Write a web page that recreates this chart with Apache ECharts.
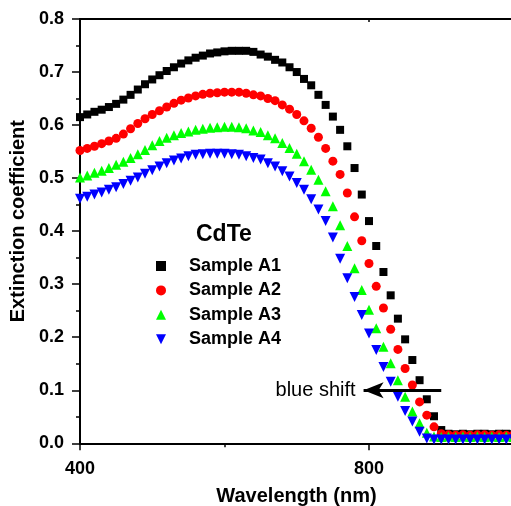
<!DOCTYPE html>
<html>
<head>
<meta charset="utf-8">
<script src="https://cdn.jsdelivr.net/npm/echarts@6/dist/echarts.min.js"></script>
<style>html,body{margin:0;padding:0;background:#fff}#c{width:511px;height:506px}</style>
</head>
<body>
<div id="c"></div>
<script>
// Wavelength grid (nm)
var wavelengths = [];
for (var w = 400; w <= 1000; w += 10) wavelengths.push(w);

var seriesNames = ['Sample A1', 'Sample A2', 'Sample A3', 'Sample A4'];

var sampleA1 = [0.615,0.620,0.625,0.629,0.634,0.640,0.648,0.657,0.667,0.677,
0.686,0.694,0.702,0.709,0.716,0.722,0.727,0.731,0.735,0.737,
0.739,0.740,0.740,0.740,0.738,0.733,0.729,0.723,0.718,0.709,
0.700,0.687,0.675,0.657,0.638,0.616,0.591,0.560,0.519,0.469,
0.419,0.372,0.323,0.279,0.235,0.196,0.157,0.119,0.083,0.051,
0.025,0.018,0.017,0.018,0.017,0.018,0.018,0.017,0.018,0.018,0.017];

var sampleA2 = [0.552,0.556,0.560,0.565,0.570,0.575,0.583,0.593,0.603,0.612,
0.620,0.627,0.634,0.641,0.647,0.651,0.655,0.658,0.660,0.661,
0.662,0.662,0.662,0.660,0.657,0.655,0.650,0.646,0.638,0.630,
0.620,0.608,0.594,0.577,0.556,0.532,0.507,0.472,0.427,0.382,
0.339,0.296,0.255,0.215,0.177,0.141,0.110,0.078,0.053,0.031,
0.018,0.016,0.015,0.016,0.015,0.016,0.016,0.015,0.016,0.015,0.016];

var sampleA3 = [0.501,0.505,0.510,0.514,0.519,0.525,0.531,0.538,0.545,0.553,
0.562,0.570,0.576,0.581,0.585,0.588,0.591,0.593,0.595,0.596,
0.597,0.597,0.596,0.594,0.590,0.587,0.581,0.575,0.566,0.557,
0.546,0.532,0.516,0.497,0.475,0.447,0.411,0.372,0.330,0.289,
0.252,0.217,0.182,0.151,0.119,0.088,0.060,0.038,0.020,0.013,
0.012,0.013,0.012,0.013,0.012,0.013,0.012,0.013,0.012,0.013,0.012];

var sampleA4 = [0.461,0.465,0.469,0.473,0.478,0.483,0.489,0.495,0.501,0.508,
0.515,0.522,0.528,0.533,0.537,0.541,0.544,0.545,0.546,0.546,
0.546,0.545,0.544,0.541,0.538,0.535,0.528,0.522,0.513,0.503,
0.491,0.478,0.460,0.441,0.419,0.388,0.348,0.311,0.276,0.242,
0.207,0.176,0.144,0.116,0.088,0.061,0.041,0.022,0.009,0.007,
0.007,0.007,0.007,0.007,0.007,0.007,0.007,0.007,0.007,0.007,0.007];

var yTicks = [0.0,0.1,0.2,0.3,0.4,0.5,0.6,0.7,0.8];
var xTickLabels = [400, 800, 1200];

var font = 'Arial, "Liberation Sans", sans-serif';

function pairs(vals) {
  return wavelengths.map(function (w, i) { return [w, vals[i]]; });
}

var chart = echarts.init(document.getElementById('c'), null, {renderer: 'canvas'});

var colors = ['#000000', '#ff0000', '#00ff00', '#0000ff'];
var symbols = ['rect', 'circle', 'triangle', 'path://M0,0L10,0L5,10Z'];
var sizes = [8, 9, 10, 10];
var datas = [sampleA1, sampleA2, sampleA3, sampleA4];

var series = seriesNames.map(function (name, i) {
  return {
    name: name,
    type: 'scatter',
    data: pairs(datas[i]),
    symbol: symbols[i],
    symbolSize: sizes[i],
    itemStyle: {color: colors[i], opacity: 1},
    emphasis: {disabled: true},
    animation: false
  };
});

series[3].markLine = {
  silent: true,
  animation: false,
  symbol: ['none', 'arrow'],
  symbolSize: [12, 20],
  lineStyle: {color: '#000', width: 3, type: 'solid'},
  label: {
    show: true, position: 'end', formatter: 'blue shift',
    color: '#000', fontSize: 20, fontFamily: font, distance: 8
  },
  data: [[{coord: [900, 0.1]}, {coord: [792.5, 0.1]}]]
};

chart.setOption({
  animation: false,
  backgroundColor: '#fff',
  title: {
    text: 'CdTe', left: 191, top: 218,
    textStyle: {fontSize: 23, fontWeight: 'bold', fontFamily: font, color: '#000'}
  },
  legend: {
    orient: 'vertical', left: 151, top: 252,
    itemWidth: 10, itemHeight: 10, itemGap: 6.4,
    selectedMode: false,
    data: seriesNames,
    textStyle: {fontSize: 18, fontWeight: 'bold', fontFamily: font, color: '#000', lineHeight: 18, padding: [0, 0, 0, 18]}
  },
  grid: {left: 80, top: 19, width: 578, height: 424.3, containLabel: false, outerBoundsMode: 'none'},
  xAxis: [{
    type: 'value', min: 400, max: 1200, interval: 400,
    name: 'Wavelength (nm)', nameLocation: 'middle', nameGap: 43,
    nameTextStyle: {fontSize: 20, fontWeight: 'bold', fontFamily: font, color: '#000', padding: [0, 145, 0, 0]},
    axisLine: {lineStyle: {color: '#000', width: 2}},
    axisTick: {show: true, length: 7, inside: false, lineStyle: {color: '#000', width: 1.5}},
    minorTick: {show: true, splitNumber: 2, length: 4, lineStyle: {color: '#000', width: 1.5}},
    axisLabel: {fontSize: 18, fontWeight: 'bold', fontFamily: font, color: '#000', margin: 17},
    splitLine: {show: false}
  }, {
    type: 'value', position: 'top', min: 400, max: 1200, interval: 400,
    axisLine: {show: true, lineStyle: {color: '#000', width: 2}},
    axisTick: {show: true, inside: true, length: 3, lineStyle: {color: '#000', width: 1.5}},
    axisLabel: {show: false},
    splitLine: {show: false}
  }],
  yAxis: {
    type: 'value', min: 0, max: 0.8, interval: 0.1,
    name: 'Extinction coefficient', nameLocation: 'middle', nameGap: 52,
    nameTextStyle: {fontSize: 20, fontWeight: 'bold', fontFamily: font, color: '#000', padding: [0, 0, 0, 20]},
    axisLine: {show: true, lineStyle: {color: '#000', width: 2}},
    axisTick: {show: true, length: 8, lineStyle: {color: '#000', width: 1.5}},
    minorTick: {show: true, splitNumber: 2, length: 4, lineStyle: {color: '#000', width: 1.5}},
    axisLabel: {fontSize: 18, fontWeight: 'bold', fontFamily: font, color: '#000', margin: 16,
      formatter: function (v) { return v.toFixed(1); }},
    splitLine: {show: false}
  },
  series: series
});
</script>
</body>
</html>
